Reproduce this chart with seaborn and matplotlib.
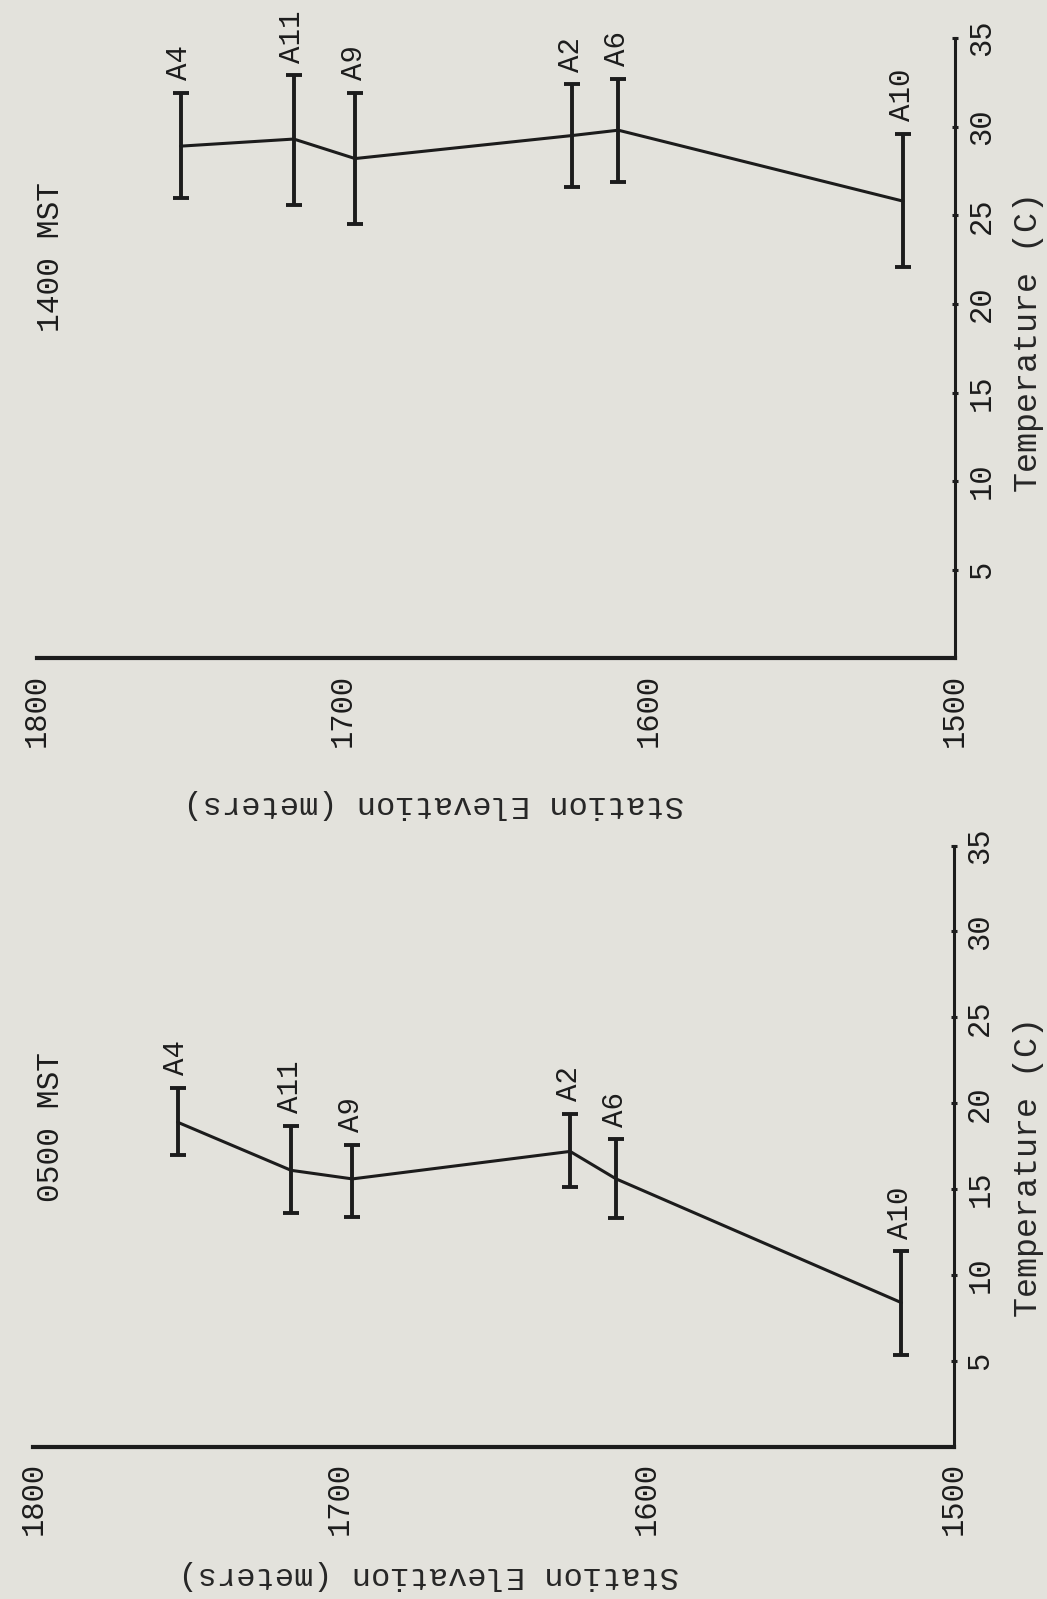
import matplotlib
matplotlib.use("Agg")
import matplotlib.pyplot as plt
import seaborn as sns
import pandas as pd
import numpy as np

# ---------------- data ----------------
stations = ["A4", "A11", "A9", "A2", "A6", "A10"]
elevation_m = [1753, 1716, 1696, 1625, 1610, 1517]

temp_1400 = [28.9, 29.3, 28.2, 29.5, 29.8, 25.8]
low_1400 = [26.0, 25.6, 24.5, 26.6, 26.9, 22.1]
high_1400 = [31.9, 32.9, 31.9, 32.4, 32.7, 29.6]

temp_0500 = [18.9, 16.1, 15.6, 17.2, 15.6, 8.4]
low_0500 = [17.0, 13.6, 13.4, 15.1, 13.3, 5.35]
high_0500 = [20.9, 18.7, 17.6, 19.4, 17.9, 11.4]

elev_ticks = [1800, 1700, 1600, 1500]
temp_ticks = [5, 10, 15, 20, 25, 30, 35]

BG = "#e3e2dc"
INK = "#1c1c1c"

sns.set_theme(style="white")
plt.rcParams["font.family"] = ["Liberation Mono", "DejaVu Sans Mono"]
plt.rcParams["text.color"] = INK

fig = plt.figure(figsize=(10.47, 15.99), dpi=100)
fig.patch.set_facecolor(BG)


def panel(rect, temps, lows, highs, title, title_xy, ylab_xy, xlab_xy):
    ax = fig.add_axes(rect)
    ax.set_facecolor(BG)
    df = pd.DataFrame({"elev": elevation_m, "temp": temps,
                       "low": lows, "high": highs, "st": stations})
    sns.lineplot(data=df, x="elev", y="temp", ax=ax, color=INK, lw=2.2,
                 sort=True, estimator=None)
    t = np.array(temps)
    ax.errorbar(df["elev"], t, yerr=[t - np.array(lows), np.array(highs) - t],
                fmt="none", ecolor=INK, elinewidth=2.8, capsize=5.5,
                capthick=2.8, zorder=3)
    for st, e, h in zip(stations, elevation_m, highs):
        ax.annotate(st, xy=(e, h), xytext=(-1, 9), textcoords="offset points",
                    rotation=90, ha="center", va="bottom", fontsize=21,
                    color=INK)
    ax.set_xlim(1800, 1500)
    ax.set_ylim(0, 35)
    for s in ("left", "top"):
        ax.spines[s].set_visible(False)
    ax.spines["bottom"].set_linewidth(3.0)
    ax.spines["right"].set_linewidth(2.2)
    ax.spines["bottom"].set_color(INK)
    ax.spines["right"].set_color(INK)
    ax.set_xticks(elev_ticks)
    ax.set_yticks(temp_ticks)
    ax.yaxis.tick_right()
    ax.tick_params(axis="x", direction="in", length=6, width=2.2, colors=INK,
                   labelrotation=90, pad=11, labelsize=22)
    ax.tick_params(axis="y", direction="inout", length=5, width=2.2,
                   colors=INK, labelrotation=90, pad=6, labelsize=22)
    for lbl in ax.get_yticklabels():
        lbl.set_va("center")
    ax.grid(False)
    ax.yaxis.set_label_position("right")
    ax.set_ylabel("Temperature (C)", fontsize=24, rotation=90,
                  rotation_mode="default", ha="center", va="center")
    ax.yaxis.set_label_coords(*ylab_xy)
    ax.set_xlabel("Station Elevation (meters)", fontsize=23, rotation=180,
                  ha="center", va="center")
    ax.xaxis.set_label_coords(*xlab_xy)
    ax.text(title_xy[0], title_xy[1], title, transform=ax.transAxes,
            rotation=90, ha="center", va="center", fontsize=22.5, color=INK)
    return ax


W, H = 1047.0, 1599.0
# top panel (1400 MST)
panel([36.7 / W, (H - 658.5) / H, (955 - 36.7) / W, (658.5 - 38) / H],
      temp_1400, low_1400, high_1400, "1400 MST",
      (0.0156, 0.647), (1.0795, 0.51), (0.4327, -0.2345))
# bottom panel (0500 MST)
panel([33.4 / W, (H - 1447) / H, (953.5 - 33.4) / W, (1447 - 845.5) / H],
      temp_0500, low_0500, high_0500, "0500 MST",
      (0.019, 0.532), (1.081, 0.4655), (0.43, -0.2128))

fig.savefig("out.png", dpi=100, facecolor=BG)
